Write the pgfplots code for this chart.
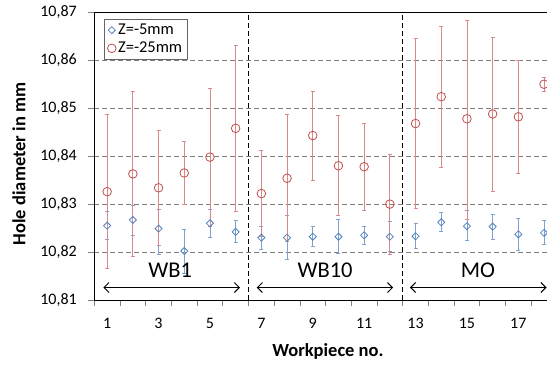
\documentclass[border=0pt]{standalone}
\usepackage{fontspec}
\setmainfont{Carlito}
\usepackage{pgfplots}
\pgfplotsset{compat=1.18}
\usepackage{pgfplotstable}
\usetikzlibrary{arrows.meta}
\definecolor{ored}{HTML}{C0504D}
\definecolor{oblue}{HTML}{4F81BD}
\definecolor{ored2}{HTML}{D88A88}
\definecolor{oblue2}{HTML}{7FA3D1}

\pgfplotstableread{
x y ep em
1 10.8255 0.0030 0.0029
2 10.8267 0.0031 0.0033
3 10.8249 0.0040 0.0053
4 10.8202 0.0046 0.0046
5 10.8260 0.0028 0.0029
6 10.8242 0.0023 0.0021
7 10.8230 0.0023 0.0024
8 10.8230 0.0046 0.0045
9 10.8232 0.0021 0.0021
10 10.8232 0.0035 0.0035
11 10.8235 0.0018 0.0020
12 10.8232 0.0031 0.0031
13 10.8233 0.0027 0.0026
14 10.8262 0.0021 0.0020
15 10.8254 0.0033 0.0030
16 10.8253 0.0025 0.0026
17 10.8237 0.0034 0.0034
18 10.8240 0.0026 0.0025
}\zfive

\pgfplotstableread{
x y ep em
1 10.8326 0.0160 0.0161
2 10.8363 0.0172 0.0173
3 10.8334 0.0120 0.0120
4 10.8365 0.0065 0.0066
5 10.8398 0.0144 0.0144
6 10.8458 0.0172 0.0174
7 10.8322 0.0090 0.0090
8 10.8354 0.0132 0.0132
9 10.8443 0.0092 0.0093
10 10.8380 0.0104 0.0104
11 10.8378 0.0091 0.0091
12 10.8300 0.0104 0.0106
13 10.8468 0.0178 0.0178
14 10.8524 0.0146 0.0147
15 10.8478 0.0205 0.0209
16 10.8488 0.0160 0.0161
17 10.8482 0.0118 0.0118
18 10.8550 0.0015 0.0015
}\ztwentyfive

\begin{document}
\begin{tikzpicture}
\useasboundingbox (0,0) rectangle (547pt,365pt);
\clip (0,0) rectangle (547pt,365pt);
\begin{axis}[
  at={(94.3pt,65pt)}, anchor=south west,
  scale only axis,
  width=462.6pt, height=287.7pt,
  xmin=0.5, xmax=18.5,
  ymin=10.81, ymax=10.87,
  axis x line=box, axis y line=left,
  axis line style={black, line width=0.9pt, -},
  xtick={0.5,1.5,...,17.5},
  xticklabels={1,{},3,{},5,{},7,{},9,{},11,{},13,{},15,{},17,{}},
  xticklabel style={xshift=12.85pt, yshift=-9pt, font=\fontsize{16}{19}\selectfont},
  xtick pos=bottom,
  ytick={10.81,10.82,...,10.875},
  ytick pos=left,
  tick align=outside,
  major tick length=6pt,
  tick style={gray, line width=0.8pt},
  yticklabel style={xshift=-8pt, font=\fontsize{16}{19}\selectfont},
  /pgf/number format/assume math mode=true,
  /pgf/number format/.cd, use comma, fixed, fixed zerofill, precision=2,
  /pgfplots/.cd,
  ymajorgrids,
  major grid style={gray, line width=0.8pt, dash pattern=on 5pt off 3pt},
  xlabel={Workpiece no.},
  ylabel={Hole diameter in mm},
  xlabel style={at={(axis description cs:0.505,-0.1797)}, anchor=center, font=\fontsize{18.5}{22}\selectfont\bfseries},
  ylabel style={at={(axis description cs:-0.1628,0.4727)}, anchor=center, font=\fontsize{18.5}{22}\selectfont\bfseries},
  legend style={at={(0.0216,0.977)}, anchor=north west, draw=gray!80!black,
    font=\fontsize{16.5}{19}\selectfont, row sep=2pt, inner sep=3pt},
  legend cell align=left,
  clip=false,
]
\addplot[only marks, mark=square, mark size=2.5pt,
  mark options={rotate=45, draw=oblue, line width=0.8pt, fill=none},
  error bars/.cd, y dir=both, y explicit,
  error bar style={oblue2, line width=0.9pt},
  error mark options={oblue2, line width=0.9pt, mark size=2pt, rotate=90}]
  table[x=x, y=y, y error plus=ep, y error minus=em] {\zfive};
\addlegendentry{Z=-5mm}
\addplot[only marks, mark=o, mark size=4.3pt,
  mark options={draw=ored, line width=0.8pt, fill=none},
  error bars/.cd, y dir=both, y explicit,
  error bar style={ored2, line width=0.9pt},
  error mark options={ored2, line width=0.9pt, mark size=2pt, rotate=90}]
  table[x=x, y=y, y error plus=ep, y error minus=em] {\ztwentyfive};
\addlegendentry{Z=-25mm}
\draw[black, line width=0.9pt, dash pattern=on 5pt off 3pt] (axis cs:6.5,10.81) -- (axis cs:6.5,10.87);
\draw[black, line width=0.9pt, dash pattern=on 5pt off 3pt] (axis cs:12.5,10.81) -- (axis cs:12.5,10.87);
\draw[{Straight Barb[length=5pt,width=10pt]}-{Straight Barb[length=5pt,width=10pt]}, line width=1pt] (axis cs:0.85,10.8126) -- (axis cs:6.17,10.8126);
\draw[{Straight Barb[length=5pt,width=10pt]}-{Straight Barb[length=5pt,width=10pt]}, line width=1pt] (axis cs:6.82,10.8126) -- (axis cs:12.13,10.8126);
\draw[{Straight Barb[length=5pt,width=10pt]}-{Straight Barb[length=5pt,width=10pt]}, line width=1pt] (axis cs:12.78,10.8126) -- (axis cs:18.1,10.8126);
\node[font=\fontsize{22.5}{26}\selectfont] at (axis cs:3.45,10.8163) {WB1};
\node[font=\fontsize{22.5}{26}\selectfont] at (axis cs:9.48,10.8163) {WB10};
\node[font=\fontsize{22.5}{26}\selectfont] at (axis cs:15.43,10.8163) {MO};
\end{axis}
\end{tikzpicture}
\end{document}
